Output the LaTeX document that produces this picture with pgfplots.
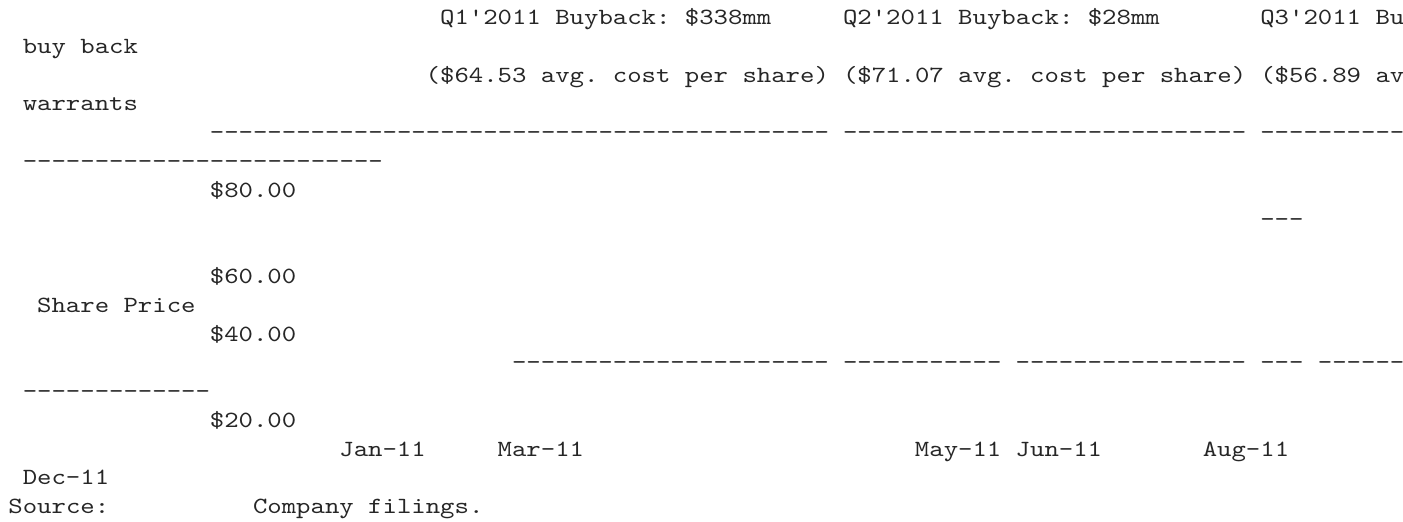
\documentclass[border=0pt]{standalone}
\usepackage{fontspec}
\setmonofont{lmmono10-regular}[Extension=.otf,FakeStretch=1.1823]
\usepackage{pgfplots}
\pgfplotsset{compat=1.18}
\frenchspacing
% column / line grid of the text dump (pixels of the 1403x521 reference)
\newcommand\T[3]{\node[anchor=base west,inner sep=0pt,font=\ttfamily\fontsize{11.6pt}{14pt}\selectfont,text=black!85] at (axis cs:{8+14.39*#1},{24.7+28.76*(#2-1)}) {#3};}
\begin{document}
\begin{tikzpicture}
\begin{axis}[at={(0pt,0pt)},anchor=south west,scale only axis,
  width=701.5pt,height=260.5pt,
  xmin=0,xmax=1403,ymin=0,ymax=521,y dir=reverse,
  hide axis,clip=false]
\addplot[draw=none] coordinates {(0,0) (1403,521)};
\T{30}{1}{Q1'2011 Buyback: \$338mm}
\T{58}{1}{Q2'2011 Buyback: \$28mm}
\T{87}{1}{Q3'2011 Bu}
\T{1}{2}{buy back}
\T{29}{3}{(\$64.53 avg. cost per share)}
\T{58}{3}{(\$71.07 avg. cost per share)}
\T{87}{3}{(\$56.89 av}
\T{1}{4}{warrants}
\T{14}{5}{-------------------------------------------}
\T{58}{5}{----------------------------}
\T{87}{5}{----------}
\T{1}{6}{-------------------------}
\T{14}{7}{\$80.00}
\T{87}{8}{---}
\T{14}{10}{\$60.00}
\T{2}{11}{Share Price}
\T{14}{12}{\$40.00}
\T{35}{13}{----------------------}
\T{58}{13}{-----------}
\T{70}{13}{----------------}
\T{87}{13}{---}
\T{91}{13}{------}
\T{1}{14}{-------------}
\T{14}{15}{\$20.00}
\T{23}{16}{Jan-11}
\T{34}{16}{Mar-11}
\T{63}{16}{May-11}
\T{70}{16}{Jun-11}
\T{83}{16}{Aug-11}
\T{1}{17}{Dec-11}
\T{0}{18}{Source:}
\T{17}{18}{Company filings.}
\end{axis}
\pgfresetboundingbox
\useasboundingbox (0,0) rectangle (701.5pt,260.5pt);
\end{tikzpicture}
\end{document}
